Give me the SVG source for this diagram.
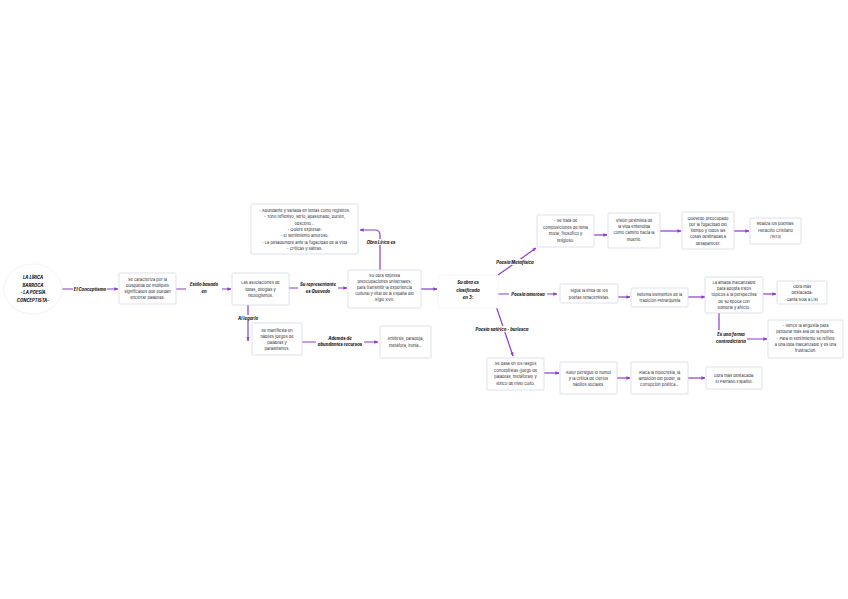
<svg xmlns="http://www.w3.org/2000/svg" width="848" height="599" viewBox="0 0 848 599">
<defs>
<marker id="ah" viewBox="0 0 10 10" refX="9" refY="5" markerWidth="3.4" markerHeight="3.4" orient="auto-start-reverse" markerUnits="strokeWidth">
<path d="M0,1 L10,5 L0,9 z" fill="#8e3ad6"/>
</marker>
</defs>
<style>
.bx{fill:#fff;stroke:#d3d9e4;stroke-width:0.8}
.t{font-family:Inter,"Liberation Sans",sans-serif;font-size:4px;fill:#26262f;text-anchor:middle}
.l{font-family:Inter,"Liberation Sans",sans-serif;font-size:4.2px;font-weight:800;font-style:italic;fill:#1e1e24;text-anchor:middle}
.c{fill:none;stroke:#8e3ad6;stroke-width:1.2;marker-end:url(#ah)}
.lb{fill:#fff}
</style>
<rect width="848" height="599" fill="#fff"/>
<g id="connectors">
<path class="c" d="M62,289 H118"/>
<rect class="lb" x="73" y="286" width="34" height="6"/>
<text class="l" x="90" y="290.5">El Conceptismo</text>
<path class="c" d="M176,289 H231"/>
<rect class="lb" x="186" y="281" width="36" height="14"/>
<text class="l" x="204" y="286">Estilo basado</text>
<text class="l" x="204" y="293">en</text>
<path class="c" d="M289,288 H347"/>
<rect class="lb" x="298" y="281" width="40" height="13"/>
<text class="l" x="318" y="286">Su representante</text>
<text class="l" x="318" y="292.5">es Quevedo</text>
<path class="c" d="M421,289 H437"/>
<path class="c" d="M380,270 V235 Q380,230 375,230 H360"/>
<rect class="lb" x="363" y="239" width="36" height="6"/>
<text class="l" x="381" y="243.5">Obra Lírica es</text>
<path class="c" d="M248,305 V341"/>
<rect class="lb" x="237" y="315" width="22" height="6"/>
<text class="l" x="248" y="319.5">Al legarlo</text>
<path class="c" d="M302,342 H378"/>
<rect class="lb" x="316" y="335" width="48" height="13"/>
<text class="l" x="340" y="340">Además de</text>
<text class="l" x="340" y="346">abundantes recursos</text>
<path class="c" d="M498,275 L536,248"/>
<rect class="lb" x="494" y="259" width="42" height="6"/>
<text class="l" x="515" y="263.5">Poesía Metafísica</text>
<path class="c" d="M498,294 H557"/>
<rect class="lb" x="509" y="291" width="38" height="6"/>
<text class="l" x="528" y="295.5">Poesía amorosa</text>
<path class="c" d="M496,306 L513,356"/>
<rect class="lb" x="472" y="326" width="60" height="6"/>
<text class="l" x="502" y="330.5">Poesía satírico - burlesca</text>
<path class="c" d="M594,235 H607"/>
<path class="c" d="M660,231 H681"/>
<path class="c" d="M734,231 H749"/>
<path class="c" d="M618,297 H630"/>
<path class="c" d="M688,297 H705"/>
<path class="c" d="M763,294 H776"/>
<path class="c" d="M719,313 V339 H767"/>
<rect class="lb" x="714" y="330" width="33" height="15"/>
<text class="l" x="731" y="336">Es una forma</text>
<text class="l" x="731" y="342.5">contradictoria</text>
<path class="c" d="M544,373 H559"/>
<path class="c" d="M617,378 H630"/>
<path class="c" d="M688,378 H705"/>
</g>
<g id="n-root">
<ellipse cx="33" cy="289" rx="29" ry="25" fill="#fff" stroke="#f0f0f3" stroke-width="0.8"/>
<text class="l" x="33" y="279">LA LÍRICA</text>
<text class="l" x="33" y="286.5">BARROCA</text>
<text class="l" x="33" y="294">- LA POESÍA</text>
<text class="l" x="33" y="301.5">CONCEPTISTA-</text>
</g>
<g id="n-caracteriza">
<rect class="bx" x="119" y="273" width="57" height="31" rx="1"/>
<text class="t" x="147.5" y="281">Se caracteriza por la</text>
<text class="t" x="147.5" y="287">búsqueda de múltiples</text>
<text class="t" x="147.5" y="293">significados que puedan</text>
<text class="t" x="147.5" y="299">encerrar palabras.</text>
</g>
<g id="n-asociaciones">
<rect class="bx" x="232" y="273" width="57" height="32" rx="1"/>
<text class="t" x="260.5" y="284">Las asociaciones de</text>
<text class="t" x="260.5" y="290.5">ideas, dilogías y</text>
<text class="t" x="260.5" y="297">neologismos.</text>
</g>
<g id="n-obra">
<rect class="bx" x="348" y="270" width="73" height="38" rx="1"/>
<text class="t" x="384.5" y="277">Su obra expresa</text>
<text class="t" x="384.5" y="283">preocupaciones universales,</text>
<text class="t" x="384.5" y="289">para transmitir la experiencia</text>
<text class="t" x="384.5" y="295">cultural y vital de la España del</text>
<text class="t" x="384.5" y="301">Siglo XVII.</text>
</g>
<g id="n-lirica">
<rect class="bx" x="251" y="204" width="107" height="50" rx="1"/>
<text class="t" x="304.5" y="212">- Abundante y variada en temas como registros.</text>
<text class="t" x="304.5" y="218">- Tono reflexivo, serio, apasionado, burlón,</text>
<text class="t" x="304.5" y="224.5">obsceno...</text>
<text class="t" x="304.5" y="231">- Quiere expresar:</text>
<text class="t" x="304.5" y="237">- El sentimiento amoroso.</text>
<text class="t" x="304.5" y="243.5">- La pesadumbre ante la fugacidad de la vida</text>
<text class="t" x="304.5" y="250">- Críticas y sátiras.</text>
</g>
<g id="n-manifiesta">
<rect class="bx" x="252" y="323" width="50" height="32" rx="1"/>
<text class="t" x="277" y="332">Se manifiesta en</text>
<text class="t" x="277" y="338">hábiles juegos de</text>
<text class="t" x="277" y="344">palabras y</text>
<text class="t" x="277" y="350">paralelismos.</text>
</g>
<g id="n-recursos">
<rect class="bx" x="380" y="326" width="51" height="32" rx="1"/>
<text class="t" x="405.5" y="340">Antítesis, paradoja,</text>
<text class="t" x="405.5" y="346.5">metáfora, ironía...</text>
</g>
<g id="n-clasificada">
<rect x="438" y="275" width="60" height="33" rx="1" fill="#fff" stroke="#f3f4f7" stroke-width="0.8"/>
<text class="l" x="468" y="284">Su obra es</text>
<text class="l" x="468" y="291.5">clasificada</text>
<text class="l" x="468" y="299">en 3:</text>
</g>
<g id="n-metafisica">
<rect class="bx" x="537" y="215" width="57" height="32" rx="1"/>
<text class="t" x="565.5" y="222">- Se trata de</text>
<text class="t" x="565.5" y="228.5">composiciones de tema</text>
<text class="t" x="565.5" y="235">moral, filosófico y</text>
<text class="t" x="565.5" y="241.5">religioso.</text>
</g>
<g id="n-vision">
<rect class="bx" x="608" y="213" width="52" height="35" rx="1"/>
<text class="t" x="634" y="221.5">Visión pesimista de</text>
<text class="t" x="634" y="227.5">la vida entendida</text>
<text class="t" x="634" y="234">como camino hacia la</text>
<text class="t" x="634" y="240.5">muerte.</text>
</g>
<g id="n-fugacidad">
<rect class="bx" x="682" y="212" width="52" height="37" rx="1"/>
<text class="t" x="708" y="219.5">Quevedo preocupado</text>
<text class="t" x="708" y="225.5">por la fugacidad del</text>
<text class="t" x="708" y="231.5">tiempo y todos las</text>
<text class="t" x="708" y="238">cosas destinadas a</text>
<text class="t" x="708" y="244.5">desaparecer.</text>
</g>
<g id="n-heraclito">
<rect class="bx" x="750" y="218" width="51" height="26" rx="1"/>
<text class="t" x="775.5" y="225">Realiza los poemas:</text>
<text class="t" x="775.5" y="231.5">Heráclito Cristiano</text>
<text class="t" x="775.5" y="238">(1613)</text>
</g>
<g id="n-renacentistas">
<rect class="bx" x="560" y="284" width="58" height="19" rx="1"/>
<text class="t" x="589" y="292">Sigue la línea de los</text>
<text class="t" x="589" y="298.5">poetas renacentistas.</text>
</g>
<g id="n-petrarquista">
<rect class="bx" x="631" y="288" width="57" height="19" rx="1"/>
<text class="t" x="659.5" y="296">Retoma elementos de la</text>
<text class="t" x="659.5" y="302">Tradición Petrarquista</text>
</g>
<g id="n-amada">
<rect class="bx" x="705" y="277" width="58" height="36" rx="1"/>
<text class="t" x="734" y="284">La amada inalcanzable</text>
<text class="t" x="734" y="290">para adopta estos</text>
<text class="t" x="734" y="296">tópicos a la perspectiva</text>
<text class="t" x="734" y="302.5">de su época con</text>
<text class="t" x="734" y="309">sombría y afecto.</text>
</g>
<g id="n-lisi">
<rect class="bx" x="777" y="281" width="50" height="23" rx="1"/>
<text class="t" x="802" y="288">Obra más</text>
<text class="t" x="802" y="294">destacada:</text>
<text class="t" x="802" y="300.5">Canta Sola a Lisi</text>
</g>
<g id="n-contradictoria">
<rect class="bx" x="768" y="320" width="75" height="38" rx="1"/>
<text class="t" x="805.5" y="327">- Vence la angustia para</text>
<text class="t" x="805.5" y="333">perdurar más allá de la muerte.</text>
<text class="t" x="805.5" y="339.5">- Para el sentimiento se refiere</text>
<text class="t" x="805.5" y="346">a una idea inalcanzable y es una</text>
<text class="t" x="805.5" y="352">frustración.</text>
</g>
<g id="n-satirica">
<rect class="bx" x="487" y="358" width="57" height="32" rx="1"/>
<text class="t" x="515.5" y="365">Se basa en los rasgos</text>
<text class="t" x="515.5" y="371.5">conceptistas (juego de</text>
<text class="t" x="515.5" y="378">palabras, metáforas) y</text>
<text class="t" x="515.5" y="384.5">léxico de nivel culto.</text>
</g>
<g id="n-humor">
<rect class="bx" x="560" y="362" width="57" height="32" rx="1"/>
<text class="t" x="588.5" y="374">Autor persigue el humor</text>
<text class="t" x="588.5" y="380">y la crítica de ciertos</text>
<text class="t" x="588.5" y="386">hábitos sociales.</text>
</g>
<g id="n-hipocresia">
<rect class="bx" x="631" y="362" width="57" height="32" rx="1"/>
<text class="t" x="659.5" y="374">Ataca la hipocresía, la</text>
<text class="t" x="659.5" y="380">ambición del poder, la</text>
<text class="t" x="659.5" y="386">corrupción política...</text>
</g>
<g id="n-parnaso">
<rect class="bx" x="706" y="367" width="56" height="22" rx="1"/>
<text class="t" x="734" y="377">Obra más destacada:</text>
<text class="t" x="734" y="383">El Parnaso Español.</text>
</g>
</svg>
